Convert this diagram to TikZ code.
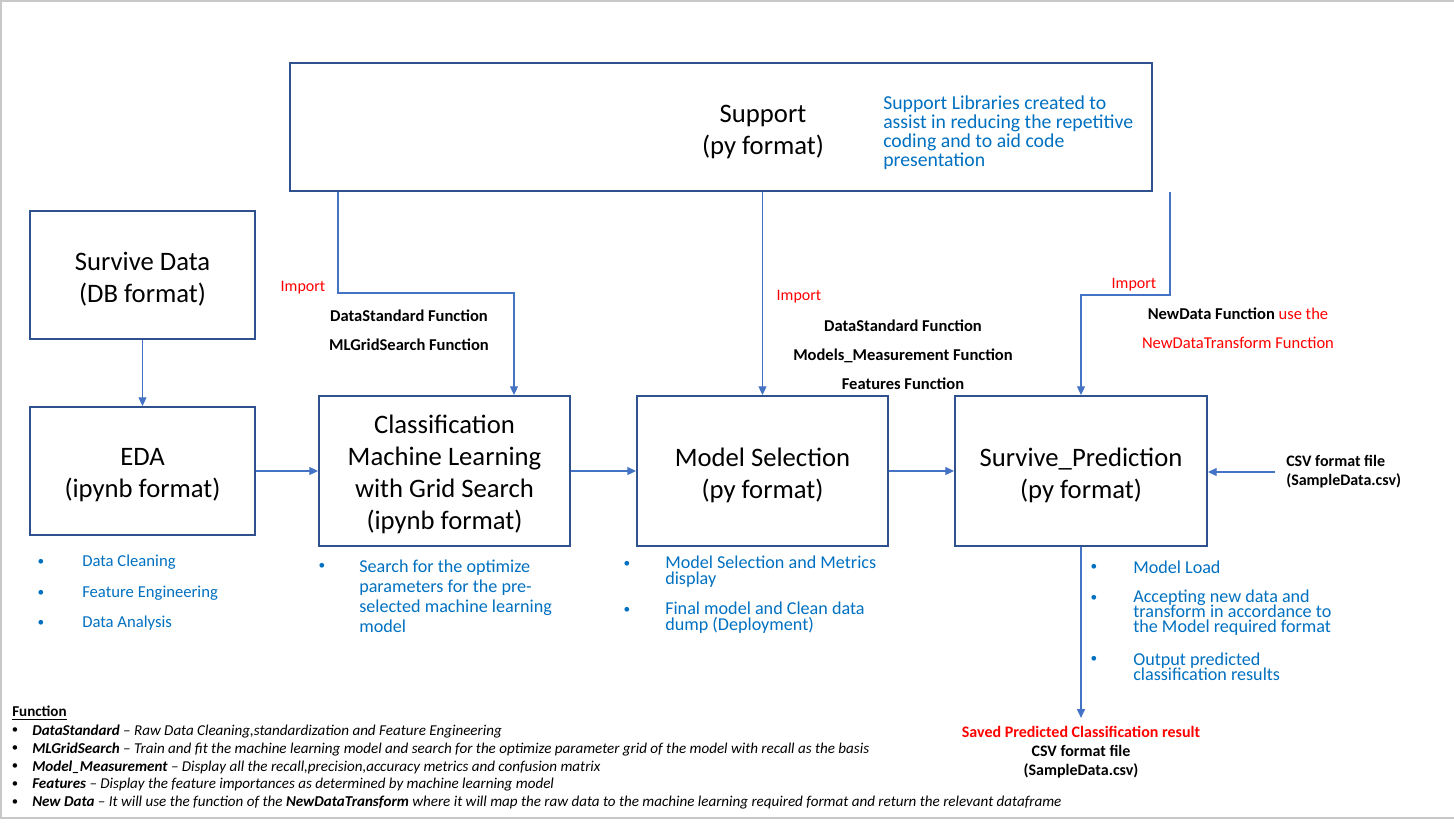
\documentclass[tikz,border=0pt]{standalone}
\usepackage{fontspec}
\setmainfont{Carlito}
\usetikzlibrary{arrows.meta}
\usetikzlibrary{positioning}
\definecolor{boxBlue}{RGB}{47,82,143}
\definecolor{lineBlue}{RGB}{68,114,196}
\definecolor{textBlue}{RGB}{0,112,192}
\definecolor{frameGray}{RGB}{200,200,200}
\newcommand\sizefont[2]{\fontsize{#1}{#2}\selectfont\lineskiplimit=-20pt\relax}
\tikzstyle{box} = [draw=boxBlue, line width=1.5pt]
\tikzstyle{title} = [align=center, font=\sizefont{20}{24}]
\tikzstyle{arrow} = [lineBlue, line width=0.8pt, -{Triangle[length=6.5pt,width=6pt]}]
\tikzstyle{imp} = [text=red, font=\sizefont{12}{14}]
\tikzstyle{fn} = [font=\bfseries\sizefont{12.4}{14.25}, align=center]
\tikzstyle{dot} = [text=textBlue, font=\sizefont{10}{12}]
\tikzstyle{item} = [text=textBlue, anchor=west, align=left]

\begin{document}
\begin{tikzpicture}[x=0.75pt, y=-0.75pt, every node/.style={inner sep=0pt}]
  \useasboundingbox (0,0) rectangle (1454,822);
  \draw[frameGray, line width=1.5pt] (1454,1) -- (1,1) -- (1,818) -- (1454,818);

  % boxes
  \node[box, minimum width=646.5pt, minimum height=96pt] (support) at (721,127) {};
  \node[title] (supporttitle) at (763,132) {Support\\(py format)};
  \node[item, font=\sizefont{14.8}{14.25}] (supportnote) at (883,133)
    {Support Libraries created to\\assist in reducing the repetitive\\coding and to aid code\\presentation};

  \node[box, minimum width=168.75pt, minimum height=96pt] (data) at (142.5,275) {};
  \node[title] (datatitle) at ([yshift=-3pt]data.center) {Survive Data\\(DB format)};
  \node[box, minimum width=168.75pt, minimum height=96pt] (eda) at (142.5,471) {};
  \node[title] (edatitle) at ([yshift=-3pt]eda.center) {EDA\\(ipynb format)};
  \node[box, minimum width=188.25pt, minimum height=112.5pt] (cls) at (444.5,471) {};
  \node[title] (clstitle) at ([yshift=-2.5pt]cls.center)
    {Classification\\Machine Learning\\with Grid Search\\(ipynb format)};
  \node[box, minimum width=188.25pt, minimum height=112.5pt] (mdl) at (762.5,471) {};
  \node[title] (mdltitle) at ([yshift=-3pt]mdl.center) {Model Selection\\(py format)};
  \node[box, minimum width=189pt, minimum height=112.5pt] (pred) at (1081,471) {};
  \node[title] (predtitle) at ([yshift=-3pt]pred.center) {Survive\_Prediction\\(py format)};

  % import labels
  \node[imp] (imp1) at (303,288) {Import};
  \node[fn] (fn1) at (409,330.5) {DataStandard Function\\[7.5pt]MLGridSearch Function};
  \node[imp] (imp2) at (799,297) {Import};
  \node[fn] (fn2) at (903,355) {DataStandard Function\\[7.5pt]Models\_Measurement Function\\[7.5pt]Features Function};
  \node[imp] (imp3) at (1134,285) {Import};
  \node[fn] (fn3) at (1238,328.5) {NewData Function \textcolor{red}{\mdseries use the}\\[7.5pt]\textcolor{red}{\mdseries NewDataTransform Function}};

  \node[fn, font=\bfseries\sizefont{12}{14.25}, anchor=west, align=left, inner xsep=8.25pt] (csvin) at (1275,472) {CSV format file\\(SampleData.csv)};
  \node[fn, font=\bfseries\sizefont{12}{14.25}, inner ysep=6pt] (out) at (1081,752)
    {\textcolor{red}{Saved Predicted Classification result}\\CSV format file\\(SampleData.csv)};

  % connectors
  \coordinate (j1) at (338,293);
  \coordinate (j1b) at (514,293);
  \coordinate (j3) at (1170,295);
  \draw[arrow] (support.south -| j1) -- (j1) -- (j1b) -- (cls.north -| j1b);
  \draw[arrow] (support.south -| mdl.north) -- (mdl.north);
  \draw[arrow] (support.south -| j3) -- (j3) -| (pred.north);
  \draw[arrow] (data) -- (eda);
  \draw[arrow] (eda) -- (cls);
  \draw[arrow] (cls) -- (mdl);
  \draw[arrow] (mdl) -- (pred);
  \draw[arrow] (csvin.west) -- (pred.east |- csvin.west);
  \draw[arrow] (pred) -- (out);

  % bullet lists
  \foreach \txt [count=\i] in {Data Cleaning, Feature Engineering, Data Analysis} {
    \node[dot] (edadot\i) at (41,532+30.5*\i) {•};
    \node[item, font=\sizefont{12.5}{15}] (edaitem\i) at (82,532+30.5*\i) {\txt};
  }
  \node[dot] (clsdot) at (322,566) {•};
  \node[item, font=\sizefont{13.6}{15}] (clsitem) at (359,596)
    {Search for the optimize\\parameters for the pre-\\selected machine learning\\model};

  \node[dot] (mdldot1) at (627,564) {•};
  \node[item, font=\sizefont{13.6}{12}] (mdlitem1) at (665,572) {Model Selection and Metrics\\display};
  \node[dot] (mdldot2) at (627,610) {•};
  \node[item, font=\sizefont{13.6}{12}] (mdlitem2) at (665,618) {Final model and Clean data\\dump (Deployment)};

  \node[dot] (preddot1) at (1094,567) {•};
  \node[item, font=\sizefont{13.6}{11.25}] (preditem1) at (1133,567) {Model Load};
  \node[dot] (preddot2) at (1094,598) {•};
  \node[item, font=\sizefont{13.6}{11.25}] (preditem2) at (1133,613)
    {Accepting new data and\\transform in accordance to\\the Model required format};
  \node[dot] (preddot3) at (1094,659) {•};
  \node[item, font=\sizefont{13.6}{11.25}] (preditem3) at (1133,666.5) {Output predicted\\classification results};

  % function notes
  \node[anchor=west, font=\bfseries\sizefont{11.3}{13}] (fnhead) at (12,713) {\underline{Function}};
  \foreach \txt [count=\i] in {
      {\textbf{DataStandard} – Raw Data Cleaning,standardization and Feature Engineering},
      {\textbf{MLGridSearch} – Train and fit the machine learning model and search for the optimize parameter grid of the model with recall as the basis},
      {\textbf{Model\_Measurement} – Display all the recall,precision,accuracy metrics and confusion matrix},
      {\textbf{Features} – Display the feature importances as determined by machine learning model},
      {\textbf{New Data} – It will use the function of the \textbf{NewDataTransform} where it will map the raw data to the machine learning required format and return the relevant dataframe}} {
    \node[font=\sizefont{9.5}{12}] (fndot\i) at (15,713+18*\i) {•};
    \node[anchor=west, font=\itshape\sizefont{11.3}{13}] (fnitem\i) at (32,713+18*\i) {\txt};
  }
\end{tikzpicture}
\end{document}
